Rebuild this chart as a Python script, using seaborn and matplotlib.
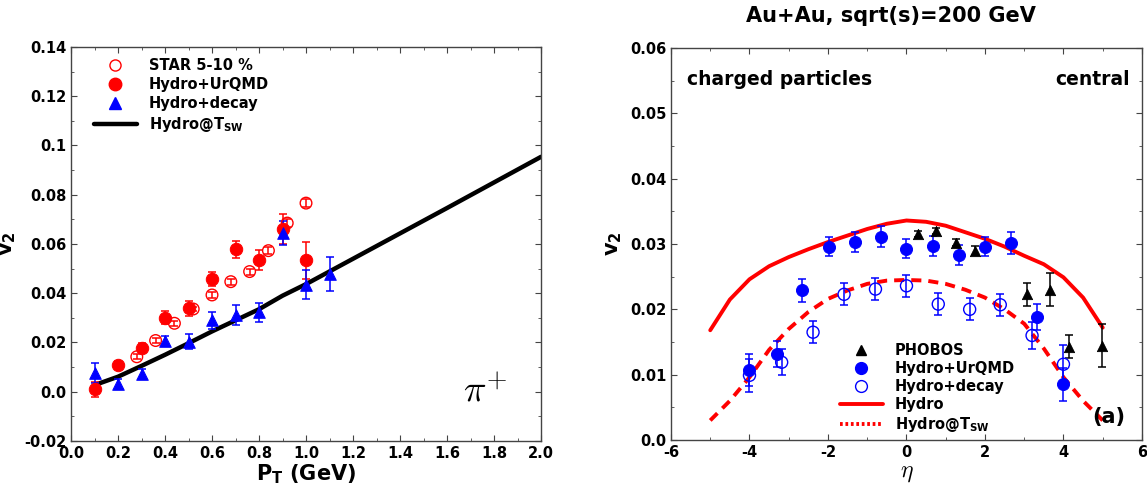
import numpy as np
import pandas as pd
import matplotlib
matplotlib.use("Agg")
import matplotlib.pyplot as plt
from matplotlib.lines import Line2D
from matplotlib.ticker import MultipleLocator, FormatStrFormatter
import seaborn as sns

# ── Left panel: pi+ v2(pT) ─────────────────────────────────────────────────────
star_pt = [0.28, 0.36, 0.44, 0.52, 0.60, 0.68, 0.76, 0.84, 0.92, 1.00]
star_v2 = [0.0142, 0.0208, 0.0278, 0.0336, 0.0393, 0.0447, 0.0488, 0.0573, 0.0685, 0.0766]
star_err = [0.0010, 0.0010, 0.0010, 0.0010, 0.0012, 0.0012, 0.0012, 0.0014, 0.0016, 0.0016]

urqmd_pt = [0.1, 0.2, 0.3, 0.4, 0.5, 0.6, 0.7, 0.8, 0.9, 1.0]
urqmd_v2 = [0.001, 0.0108, 0.0177, 0.0301, 0.0339, 0.0458, 0.0579, 0.0534, 0.0660, 0.0533]
urqmd_err = [0.003, 0.0015, 0.002, 0.0025, 0.003, 0.003, 0.0035, 0.004, 0.006, 0.0075]

decay_pt = [0.1, 0.2, 0.3, 0.4, 0.5, 0.6, 0.7, 0.8, 0.9, 1.0, 1.1]
decay_v2 = [0.0075, 0.0032, 0.0071, 0.0208, 0.0204, 0.0290, 0.0312, 0.0322, 0.0645, 0.0435, 0.0478]
decay_err = [0.004, 0.002, 0.002, 0.002, 0.003, 0.0035, 0.004, 0.004, 0.005, 0.006, 0.007]

tsw_pt = [0.1, 0.2, 0.3, 0.4, 0.5, 0.6, 0.7, 0.8, 0.9, 1.0, 1.2, 1.4, 1.6, 1.8, 2.0]
tsw_v2 = [0.0027, 0.0061, 0.0105, 0.0150, 0.0197, 0.0245, 0.0290, 0.0335, 0.0390, 0.0437,
          0.0540, 0.0643, 0.0746, 0.0850, 0.0954]

# ── Right panel: charged v2(eta) ───────────────────────────────────────────────
phobos_eta = [0.30, 0.76, 1.25, 1.74, 3.07, 3.65, 4.13, 4.98]
phobos_v2 = [0.0315, 0.0320, 0.0302, 0.0290, 0.0223, 0.0230, 0.0143, 0.0144]
phobos_err = [0.0005, 0.0005, 0.0005, 0.0007, 0.0018, 0.0025, 0.0018, 0.0033]

rq_eta = [-4.0, -3.31, -2.65, -1.97, -1.30, -0.66, 0.0, 0.68, 1.35, 2.01, 2.67, 3.32, 4.0]
rq_v2 = [0.0107, 0.0132, 0.0229, 0.0296, 0.0303, 0.0311, 0.0293, 0.0297, 0.0283, 0.0296,
         0.0301, 0.0188, 0.0085]
rq_err = [0.0025, 0.002, 0.0017, 0.0015, 0.0015, 0.0016, 0.0015, 0.0015, 0.0015, 0.0015,
          0.0017, 0.002, 0.0025]

dc_eta = [-4.0, -3.18, -2.38, -1.59, -0.79, 0.0, 0.81, 1.61, 2.39, 3.20, 4.0]
dc_v2 = [0.0099, 0.0119, 0.0165, 0.0223, 0.0231, 0.0236, 0.0208, 0.0200, 0.0207, 0.0160, 0.0116]
dc_err = [0.0025, 0.002, 0.0017, 0.0017, 0.0017, 0.0017, 0.0017, 0.0017, 0.0017, 0.002, 0.003]

hydro_eta = [-5.0, -4.5, -4.0, -3.5, -3.0, -2.5, -2.0, -1.5, -1.0, -0.5, 0.0,
             0.5, 1.0, 1.5, 2.0, 2.5, 3.0, 3.5, 4.0, 4.5, 5.0]
hydro_v2 = [0.0168, 0.0215, 0.0246, 0.0266, 0.0280, 0.0292, 0.0303, 0.0313, 0.0323, 0.0331, 0.0336,
            0.0334, 0.0328, 0.0318, 0.0308, 0.0296, 0.0282, 0.0269, 0.0249, 0.0218, 0.0172]

htsw_eta = [-5.0, -4.5, -4.0, -3.5, -3.0, -2.5, -2.0, -1.5, -1.0, -0.5, 0.0,
            0.5, 1.0, 1.5, 2.0, 2.5, 3.0, 3.5, 4.0, 4.5, 5.0]
htsw_v2 = [0.0030, 0.0060, 0.0096, 0.0138, 0.0170, 0.0196, 0.0216, 0.0229, 0.0239, 0.0244, 0.0245,
           0.0244, 0.0239, 0.0230, 0.0218, 0.0200, 0.0178, 0.0140, 0.0096, 0.0060, 0.0030]

RED = "#ff0000"
BLUE = "#0000ff"

sns.set_style("ticks")
plt.rcParams.update({
    "font.family": ["DejaVu Sans"],
    "font.weight": "bold",
    "font.size": 10.5,
    "text.color": "black",
    "axes.labelcolor": "black",
    "axes.unicode_minus": False,
    "axes.linewidth": 1.0,
    "axes.edgecolor": "#444444",
    "xtick.direction": "in",
    "ytick.direction": "in",
    "xtick.top": True,
    "ytick.right": True,
    "xtick.major.size": 4,
    "ytick.major.size": 4,
    "xtick.minor.size": 2.5,
    "ytick.minor.size": 2.5,
    "xtick.minor.visible": True,
    "ytick.minor.visible": True,
})

fig = plt.figure(figsize=(11.47, 4.94), dpi=100)
ax1 = fig.add_axes([0.0619, 0.1073, 0.4098, 0.7976])
ax2 = fig.add_axes([0.585, 0.1093, 0.4106, 0.7935])


def errs(ax, x, y, e, color):
    ax.errorbar(x, y, yerr=e, fmt="none", ecolor=color, elinewidth=1.1,
                capsize=3, capthick=1.1, zorder=2)


# ── Left panel ────────────────────────────────────────────────────────────────
sns.lineplot(x=tsw_pt, y=tsw_v2, ax=ax1, color="black", lw=3.2, zorder=1)
errs(ax1, star_pt, star_v2, star_err, RED)
errs(ax1, urqmd_pt, urqmd_v2, urqmd_err, RED)
errs(ax1, decay_pt, decay_v2, decay_err, BLUE)
sns.scatterplot(x=star_pt, y=star_v2, ax=ax1, marker="o", s=70,
                facecolor="none", edgecolor=RED, linewidth=1.0, zorder=3)
sns.scatterplot(x=urqmd_pt, y=urqmd_v2, ax=ax1, marker="o", s=80,
                color=RED, edgecolor=RED, zorder=3)
sns.scatterplot(x=decay_pt, y=decay_v2, ax=ax1, marker="^", s=70,
                color=BLUE, edgecolor=BLUE, zorder=3)

ax1.set_xlim(0.0, 2.0)
ax1.set_ylim(-0.02, 0.14)
ax1.xaxis.set_major_locator(MultipleLocator(0.2))
ax1.xaxis.set_minor_locator(MultipleLocator(0.1))
ax1.yaxis.set_major_locator(MultipleLocator(0.02))
ax1.yaxis.set_minor_locator(MultipleLocator(0.01))
ax1.xaxis.set_major_formatter(FormatStrFormatter("%.1f"))
ax1.yaxis.set_major_formatter(lambda v, p: f"{v:.2f}".rstrip("0") if abs(v) > 1e-9 else "0.0")
ax1.set_xlabel(r"$\mathbf{P_T}$ (GeV)", fontsize=15, fontweight="bold", labelpad=1)
ax1.set_ylabel(r"$\mathbf{v_2}$", fontsize=15, labelpad=4)
ax1.text(0.835, 0.125, r"$\pi^{+}$", transform=ax1.transAxes, fontsize=27,
         fontweight="normal", math_fontfamily="cm", ha="left", va="center")

h1 = [
    Line2D([], [], ls="none", marker="o", ms=8, mfc="none", mec=RED),
    Line2D([], [], ls="none", marker="o", ms=9, color=RED),
    Line2D([], [], ls="none", marker="^", ms=8, color=BLUE),
    Line2D([], [], color="black", lw=3.2),
]
l1 = [r"STAR 5-10 %", "Hydro+UrQMD", "Hydro+decay", r"Hydro@T$_{\mathbf{SW}}$"]
ax1.legend(h1, l1, loc="upper left", bbox_to_anchor=(0.02, 1.005), frameon=False,
           handlelength=3.0, handletextpad=0.8, labelspacing=0.28, fontsize=10.5)

# ── Right panel ───────────────────────────────────────────────────────────────
sns.lineplot(x=hydro_eta, y=hydro_v2, ax=ax2, color=RED, lw=2.8, zorder=1)
sns.lineplot(x=htsw_eta, y=htsw_v2, ax=ax2, color=RED, lw=2.8, zorder=1,
             dashes=False, linestyle=(0, (2.6, 1.8)))
errs(ax2, phobos_eta, phobos_v2, phobos_err, "black")
errs(ax2, rq_eta, rq_v2, rq_err, BLUE)
errs(ax2, dc_eta, dc_v2, dc_err, BLUE)
sns.scatterplot(x=phobos_eta, y=phobos_v2, ax=ax2, marker="^", s=55,
                color="black", edgecolor="black", zorder=3)
sns.scatterplot(x=rq_eta, y=rq_v2, ax=ax2, marker="o", s=75,
                color=BLUE, edgecolor=BLUE, zorder=3)
sns.scatterplot(x=dc_eta, y=dc_v2, ax=ax2, marker="o", s=75,
                facecolor="none", edgecolor=BLUE, linewidth=1.0, zorder=3)

ax2.set_xlim(-6, 6)
ax2.set_ylim(0.0, 0.06)
ax2.xaxis.set_major_locator(MultipleLocator(2))
ax2.xaxis.set_minor_locator(MultipleLocator(1))
ax2.yaxis.set_major_locator(MultipleLocator(0.01))
ax2.yaxis.set_minor_locator(MultipleLocator(0.005))
ax2.yaxis.set_major_formatter(lambda v, p: f"{v:.2f}" if abs(v) > 1e-9 else "0.0")
ax2.set_xlabel(r"$\eta$", fontsize=17, labelpad=0, math_fontfamily="cm")
ax2.set_ylabel(r"$\mathbf{v_2}$", fontsize=15, labelpad=4)
ax2.text(0.035, 0.92, "charged particles", transform=ax2.transAxes, fontsize=13.5,
         fontweight="bold", ha="left", va="center")
ax2.text(0.975, 0.92, "central", transform=ax2.transAxes, fontsize=13.5,
         fontweight="bold", ha="right", va="center")
ax2.text(0.93, 0.058, "(a)", transform=ax2.transAxes, fontsize=15,
         fontweight="bold", ha="center", va="center")

h2 = [
    Line2D([], [], ls="none", marker="^", ms=7.5, color="black"),
    Line2D([], [], ls="none", marker="o", ms=8.5, color=BLUE),
    Line2D([], [], ls="none", marker="o", ms=8.5, mfc="none", mec=BLUE),
    Line2D([], [], color=RED, lw=2.8),
    Line2D([], [], color=RED, lw=2.8, linestyle=(0, (0.7, 0.7))),
]
l2 = ["PHOBOS", "Hydro+UrQMD", "Hydro+decay", "Hydro", r"Hydro@T$_{\mathbf{SW}}$"]
ax2.legend(h2, l2, loc="lower left", bbox_to_anchor=(0.33, -0.018), frameon=False,
           handlelength=3.0, handletextpad=0.8, labelspacing=0.2, fontsize=10.5)

for ax in (ax1, ax2):
    for lab in ax.get_xticklabels() + ax.get_yticklabels():
        lab.set_fontweight("bold")
    ax.tick_params(which="both", colors="#444444", labelcolor="black", labelsize=10.5)

fig.text(0.777, 0.968, "Au+Au, sqrt(s)=200 GeV", fontsize=15, fontweight="bold",
         color="black", ha="center", va="center")

fig.savefig("out.png", dpi=100)
